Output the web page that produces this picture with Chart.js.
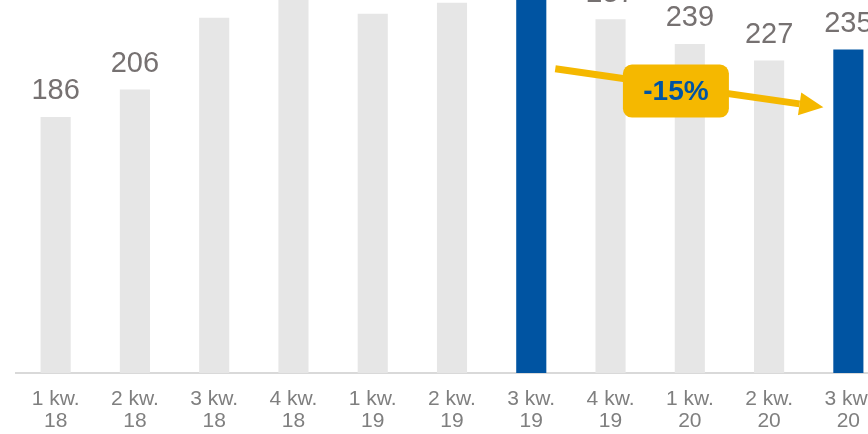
<!DOCTYPE html>
<html>
<head>
<meta charset="utf-8">
<script src="https://cdn.jsdelivr.net/npm/chart.js@4.4.0/dist/chart.umd.min.js"></script>
<style>
    html, body {margin: 0; padding: 0; width: 868px; height: 434px; overflow: hidden; background: #fff;}
    /* the reference is a crop: the chart runs past the top and right edges */
    #wrap {position: absolute; left: 0; top: -60px; width: 888px; height: 494px;}
</style>
</head>
<body>
<div id="wrap"><canvas id="myChart" width="888" height="494"></canvas></div>
<script>
const quarters = [['1 kw.', '18'], ['2 kw.', '18'], ['3 kw.', '18'], ['4 kw.', '18'],
                  ['1 kw.', '19'], ['2 kw.', '19'], ['3 kw.', '19'], ['4 kw.', '19'],
                  ['1 kw.', '20'], ['2 kw.', '20'], ['3 kw.', '20']];
const values = [186, 206, 258, 274, 261, 269, 277, 257, 239, 227, 235];
const highlighted = [6, 10];
// arrow runs from the first highlighted bar to the second one
const arrowValues = [221, 193];

const GRAY = '#e6e6e6';
const BLUE = '#0054a2';
const YELLOW = '#f5b800';
const TEXT = '#767171';

const barColors = values.map((v, i) => highlighted.includes(i) ? BLUE : GRAY);

const valueLabels = {
    id: 'valueLabels',
    afterDatasetsDraw(chart) {
        const ctx = chart.ctx;
        const meta = chart.getDatasetMeta(0);
        ctx.save();
        ctx.font = '29px "Liberation Sans", Arial, sans-serif';
        ctx.fillStyle = TEXT;
        ctx.textAlign = 'center';
        ctx.textBaseline = 'alphabetic';
        meta.data.forEach((bar, i) => ctx.fillText(values[i], bar.x, bar.y - 17.5));
        ctx.restore();
    }
};

const trendArrow = {
    id: 'trendArrow',
    afterDatasetsDraw(chart) {
        const {ctx, scales: {x, y}} = chart;
        const [from, to] = highlighted;
        const x0 = x.getPixelForValue(from) + 24, y0 = y.getPixelForValue(arrowValues[0]);
        const x1 = x.getPixelForValue(to) - 25, y1 = y.getPixelForValue(arrowValues[1]);
        const ang = Math.atan2(y1 - y0, x1 - x0);
        const headLen = 24, headHalf = 11.5;
        const bx = x1 - headLen * Math.cos(ang), by = y1 - headLen * Math.sin(ang);

        ctx.save();
        ctx.strokeStyle = YELLOW;
        ctx.fillStyle = YELLOW;
        ctx.lineWidth = 7;
        ctx.beginPath();
        ctx.moveTo(x0, y0);
        ctx.lineTo(bx, by);
        ctx.stroke();

        ctx.beginPath();
        ctx.moveTo(x1, y1);
        ctx.lineTo(bx + headHalf * Math.sin(ang), by - headHalf * Math.cos(ang));
        ctx.lineTo(bx - headHalf * Math.sin(ang), by + headHalf * Math.cos(ang));
        ctx.closePath();
        ctx.fill();

        // label box sits a bit before the middle of the arrow
        const t = 0.45;
        const cx = x0 + (x1 - x0) * t, cy = y0 + (y1 - y0) * t + 5;
        const w = 106, h = 53;
        ctx.beginPath();
        ctx.roundRect(cx - w / 2, cy - h / 2, w, h, 9);
        ctx.fill();

        const change = Math.round((values[to] / values[from] - 1) * 100);
        ctx.fillStyle = BLUE;
        ctx.font = 'bold 28px "Liberation Sans", Arial, sans-serif';
        ctx.textAlign = 'center';
        ctx.textBaseline = 'middle';
        ctx.fillText(change + '%', cx, cy + 1);
        ctx.restore();
    }
};

const ctx = document.getElementById('myChart').getContext('2d');
new Chart(ctx, {
    type: 'bar',
    data: {
        labels: quarters,
        datasets: [{
            data: values,
            backgroundColor: barColors,
            borderWidth: 0,
            categoryPercentage: 1,
            barPercentage: 0.38
        }]
    },
    options: {
        responsive: false,
        animation: false,
        devicePixelRatio: 1,
        layout: {padding: {left: 16, right: 0, top: 20, bottom: 0}},
        scales: {
            x: {
                grid: {display: false},
                border: {display: true, color: '#d9d9d9', width: 2},
                ticks: {
                    color: '#7f7f7f',
                    font: {family: '"Liberation Sans", Arial', size: 21, lineHeight: 1.05},
                    padding: 7,
                    maxRotation: 0,
                    autoSkip: false
                },
                afterFit: (axis) => { axis.height = 61; }
            },
            y: {
                display: false,
                min: 0,
                max: 300
            }
        },
        plugins: {
            legend: {display: false},
            tooltip: {enabled: false}
        }
    },
    plugins: [valueLabels, trendArrow]
});
</script>
</body>
</html>
